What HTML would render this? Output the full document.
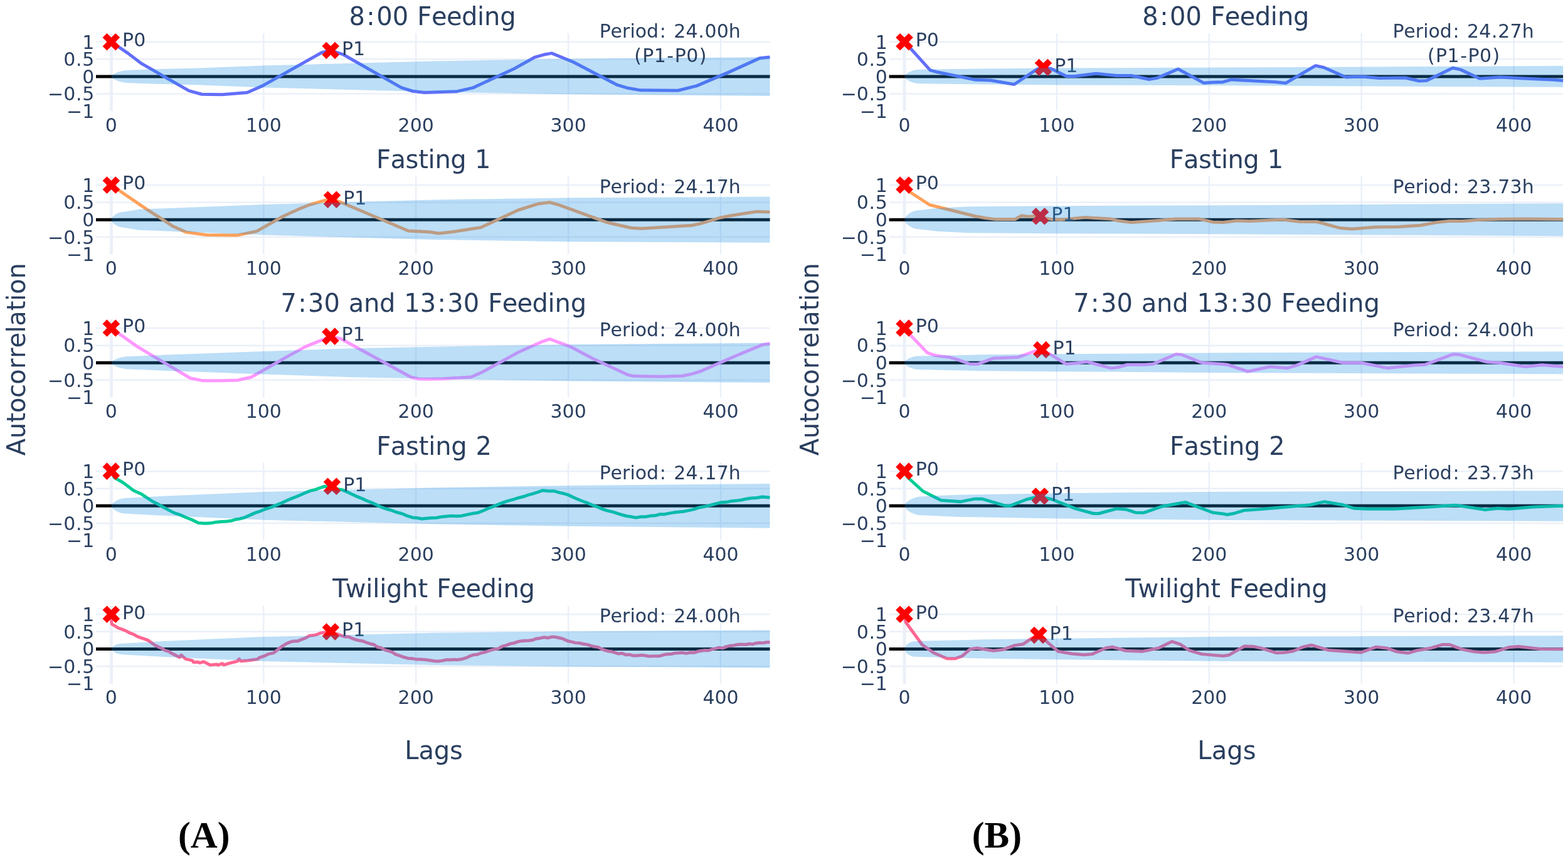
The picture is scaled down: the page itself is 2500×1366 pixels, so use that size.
<!DOCTYPE html><html><head><meta charset="utf-8"><title>Autocorrelation</title><style>html,body{margin:0;padding:0;background:#fff;width:2500px;height:1366px;overflow:hidden}svg{display:block}</style></head><body>
<svg width="2500" height="1366" viewBox="0 0 2500 1366">
<rect width="2500" height="1366" fill="#fff"/>
<g font-family="'DejaVu Sans', 'Liberation Sans', sans-serif" fill="#2a3f5f">
<line x1="177.4" y1="52.96" x2="177.4" y2="177.16" stroke="#EBF0F8" stroke-width="5"/><line x1="420.3" y1="52.96" x2="420.3" y2="177.16" stroke="#EBF0F8" stroke-width="2.5"/><line x1="663.2" y1="52.96" x2="663.2" y2="177.16" stroke="#EBF0F8" stroke-width="2.5"/><line x1="906.1" y1="52.96" x2="906.1" y2="177.16" stroke="#EBF0F8" stroke-width="2.5"/><line x1="1149" y1="52.96" x2="1149" y2="177.16" stroke="#EBF0F8" stroke-width="2.5"/><line x1="153" y1="66.76" x2="1227.5" y2="66.76" stroke="#EBF0F8" stroke-width="2.5"/><line x1="153" y1="94.36" x2="1227.5" y2="94.36" stroke="#EBF0F8" stroke-width="2.5"/><line x1="153" y1="149.56" x2="1227.5" y2="149.56" stroke="#EBF0F8" stroke-width="2.5"/>
<line x1="153" y1="121.96" x2="1227.5" y2="121.96" stroke="#000" stroke-width="5"/>
<polyline points="177.4,66.76 204,84.86 224.5,100.56 301.2,144.66 321.7,150.26 354.1,150.66 394.1,147.46 418.9,136.66 512.9,83.76 526.9,80.46 547.4,86.96 640.3,139.86 657.6,145.26 677,147.46 729,145.66 754.3,139.86 821.4,108.66 852.2,91.46 867.6,87.06 879.7,84.86 913.8,98.76 984.2,135.46 1001.8,140.56 1021.6,143.86 1081,144.26 1110.7,136.86 1162.5,114.86 1210.9,92.86 1227.5,91.06" fill="none" stroke="#636EFA" stroke-width="5" stroke-linejoin="round"/>
<path d="M177.4,73.66 L184.3,80.56 L191.2,73.66 L184.3,66.76 L191.2,59.86 L184.3,52.96 L177.4,59.86 L170.5,52.96 L163.6,59.86 L170.5,66.76 L163.6,73.66 L170.5,80.56Z" fill="#f00"/>
<path d="M527.2,87.36 L534.1,94.26 L541,87.36 L534.1,80.46 L541,73.56 L534.1,66.66 L527.2,73.56 L520.3,66.66 L513.4,73.56 L520.3,80.46 L513.4,87.36 L520.3,94.26Z" fill="#f00"/>
<text x="195.1 213.19" y="74.06" font-size="30">P0</text>
<text x="544.9 562.99" y="87.76" font-size="30">P1</text>
<polygon points="177.4,121.96 178.29,120.31 179.77,119 181.84,117.66 184.8,116.17 189.24,114.47 195.16,112.89 201.08,111.97 207,111.66 238.6,110.46 317.6,108.46 420,104.46 556,100.96 690,97.46 905,93.66 1227.5,90.96 1227.5,152.96 905,150.26 690,146.46 556,142.96 420,139.46 317.6,135.46 238.6,133.46 207,132.26 201.08,131.95 195.16,131.03 189.24,129.45 184.8,127.75 181.84,126.26 179.77,124.92 178.29,123.61 177.4,121.96" fill="rgb(32,146,230)" fill-opacity="0.3"/>
<text x="131.22" y="77.56" font-size="30">1</text>
<text x="101.22 120.99 131.22" y="105.16" font-size="30">0.5</text>
<text x="131.22" y="132.76" font-size="30">0</text>
<text x="76.08 101.22 120.99 131.22" y="160.36" font-size="30">−0.5</text>
<text x="106.08 131.22" y="187.96" font-size="30">−1</text>
<text x="167.86" y="209.56" font-size="30">0</text>
<text x="391.68 410.76 429.84" y="209.56" font-size="30">100</text>
<text x="634.58 653.66 672.74" y="209.56" font-size="30">200</text>
<text x="877.48 896.56 915.64" y="209.56" font-size="30">300</text>
<text x="1120.38 1139.46 1158.54" y="209.56" font-size="30">400</text>
<line x1="177.4" y1="281.21" x2="177.4" y2="405.41" stroke="#EBF0F8" stroke-width="5"/><line x1="420.3" y1="281.21" x2="420.3" y2="405.41" stroke="#EBF0F8" stroke-width="2.5"/><line x1="663.2" y1="281.21" x2="663.2" y2="405.41" stroke="#EBF0F8" stroke-width="2.5"/><line x1="906.1" y1="281.21" x2="906.1" y2="405.41" stroke="#EBF0F8" stroke-width="2.5"/><line x1="1149" y1="281.21" x2="1149" y2="405.41" stroke="#EBF0F8" stroke-width="2.5"/><line x1="153" y1="295.01" x2="1227.5" y2="295.01" stroke="#EBF0F8" stroke-width="2.5"/><line x1="153" y1="322.61" x2="1227.5" y2="322.61" stroke="#EBF0F8" stroke-width="2.5"/><line x1="153" y1="377.81" x2="1227.5" y2="377.81" stroke="#EBF0F8" stroke-width="2.5"/>
<line x1="153" y1="350.21" x2="1227.5" y2="350.21" stroke="#000" stroke-width="5"/>
<polyline points="177.4,295.01 232.1,332.31 275.3,360.41 296.9,370.11 329.3,374.51 378.9,374.91 409.2,368.61 452.4,344.21 476.1,333.41 493.4,326.51 529,316.21 651.1,368.01 685,369.81 699.3,372.01 720.2,369.81 766.4,362.71 825.8,335.01 858.8,324.71 876.4,322.51 891.8,326.91 968.8,354.81 1006.2,363.21 1023.8,364.31 1059,362.11 1103,359.21 1116.2,356.61 1147,347.31 1164.6,343.81 1206.5,337.21 1227.5,338.11" fill="none" stroke="#FFA15A" stroke-width="5" stroke-linejoin="round"/>
<path d="M177.4,301.91 L184.3,308.81 L191.2,301.91 L184.3,295.01 L191.2,288.11 L184.3,281.21 L177.4,288.11 L170.5,281.21 L163.6,288.11 L170.5,295.01 L163.6,301.91 L170.5,308.81Z" fill="#f00"/>
<path d="M529.5,325.11 L536.4,332.01 L543.3,325.11 L536.4,318.21 L543.3,311.31 L536.4,304.41 L529.5,311.31 L522.6,304.41 L515.7,311.31 L522.6,318.21 L515.7,325.11 L522.6,332.01Z" fill="#f00"/>
<text x="195.1 213.19" y="302.31" font-size="30">P0</text>
<text x="547.2 565.29" y="325.51" font-size="30">P1</text>
<polygon points="177.4,350.21 177.99,348.21 178.97,346.61 180.34,344.99 182.3,343.19 185.24,341.12 189.16,339.2 193.08,338.08 197,337.71 221.3,333.71 420,325.91 690,318.51 905,315.21 1227.5,313.61 1227.5,386.81 905,385.21 690,381.91 420,374.51 221.3,366.71 197,362.71 193.08,362.34 189.16,361.22 185.24,359.3 182.3,357.23 180.34,355.43 178.97,353.81 177.99,352.21 177.4,350.21" fill="rgb(32,146,230)" fill-opacity="0.3"/>
<text x="131.22" y="305.81" font-size="30">1</text>
<text x="101.22 120.99 131.22" y="333.41" font-size="30">0.5</text>
<text x="131.22" y="361.01" font-size="30">0</text>
<text x="76.08 101.22 120.99 131.22" y="388.61" font-size="30">−0.5</text>
<text x="106.08 131.22" y="416.21" font-size="30">−1</text>
<text x="167.86" y="437.81" font-size="30">0</text>
<text x="391.68 410.76 429.84" y="437.81" font-size="30">100</text>
<text x="634.58 653.66 672.74" y="437.81" font-size="30">200</text>
<text x="877.48 896.56 915.64" y="437.81" font-size="30">300</text>
<text x="1120.38 1139.46 1158.54" y="437.81" font-size="30">400</text>
<line x1="177.4" y1="509.26" x2="177.4" y2="633.46" stroke="#EBF0F8" stroke-width="5"/><line x1="420.3" y1="509.26" x2="420.3" y2="633.46" stroke="#EBF0F8" stroke-width="2.5"/><line x1="663.2" y1="509.26" x2="663.2" y2="633.46" stroke="#EBF0F8" stroke-width="2.5"/><line x1="906.1" y1="509.26" x2="906.1" y2="633.46" stroke="#EBF0F8" stroke-width="2.5"/><line x1="1149" y1="509.26" x2="1149" y2="633.46" stroke="#EBF0F8" stroke-width="2.5"/><line x1="153" y1="523.06" x2="1227.5" y2="523.06" stroke="#EBF0F8" stroke-width="2.5"/><line x1="153" y1="550.66" x2="1227.5" y2="550.66" stroke="#EBF0F8" stroke-width="2.5"/><line x1="153" y1="605.86" x2="1227.5" y2="605.86" stroke="#EBF0F8" stroke-width="2.5"/>
<line x1="153" y1="578.26" x2="1227.5" y2="578.26" stroke="#000" stroke-width="5"/>
<polyline points="177.4,523.06 219.1,552.66 303.3,602.76 322.8,606.66 355.2,606.66 378.9,606.06 400.5,601.26 458.9,567.86 486.9,552.66 526.9,536.46 543.1,539.76 655.4,601.26 668.4,604.06 685,604.26 704.8,603.86 751,600.96 768.6,593.26 828,560.66 861,545.96 876.4,540.46 909.4,552.56 944.6,571.26 1001.8,597.66 1010.6,599.46 1054.6,600.36 1087.6,599.26 1103,596.16 1116.2,592.16 1169,569.06 1215.3,549.66 1227.5,547.46" fill="none" stroke="#FF97FF" stroke-width="5" stroke-linejoin="round"/>
<path d="M177.4,529.96 L184.3,536.86 L191.2,529.96 L184.3,523.06 L191.2,516.16 L184.3,509.26 L177.4,516.16 L170.5,509.26 L163.6,516.16 L170.5,523.06 L163.6,529.96 L170.5,536.86Z" fill="#f00"/>
<path d="M526.9,543.06 L533.8,549.96 L540.7,543.06 L533.8,536.16 L540.7,529.26 L533.8,522.36 L526.9,529.26 L520,522.36 L513.1,529.26 L520,536.16 L513.1,543.06 L520,549.96Z" fill="#f00"/>
<text x="195.1 213.19" y="530.36" font-size="30">P0</text>
<text x="544.6 562.69" y="543.46" font-size="30">P1</text>
<polygon points="177.4,578.26 178.29,576.61 179.77,575.3 181.84,573.96 184.8,572.47 189.24,570.77 195.16,569.19 201.08,568.27 207,567.96 260,565.76 420,560.06 560,555.26 690,552.76 905,549.36 1227.5,546.46 1227.5,610.06 905,607.16 690,603.76 560,601.26 420,596.46 260,590.76 207,588.56 201.08,588.25 195.16,587.33 189.24,585.75 184.8,584.05 181.84,582.56 179.77,581.22 178.29,579.91 177.4,578.26" fill="rgb(32,146,230)" fill-opacity="0.3"/>
<text x="131.22" y="533.86" font-size="30">1</text>
<text x="101.22 120.99 131.22" y="561.46" font-size="30">0.5</text>
<text x="131.22" y="589.06" font-size="30">0</text>
<text x="76.08 101.22 120.99 131.22" y="616.66" font-size="30">−0.5</text>
<text x="106.08 131.22" y="644.26" font-size="30">−1</text>
<text x="167.86" y="665.86" font-size="30">0</text>
<text x="391.68 410.76 429.84" y="665.86" font-size="30">100</text>
<text x="634.58 653.66 672.74" y="665.86" font-size="30">200</text>
<text x="877.48 896.56 915.64" y="665.86" font-size="30">300</text>
<text x="1120.38 1139.46 1158.54" y="665.86" font-size="30">400</text>
<line x1="177.4" y1="737.37" x2="177.4" y2="861.57" stroke="#EBF0F8" stroke-width="5"/><line x1="420.3" y1="737.37" x2="420.3" y2="861.57" stroke="#EBF0F8" stroke-width="2.5"/><line x1="663.2" y1="737.37" x2="663.2" y2="861.57" stroke="#EBF0F8" stroke-width="2.5"/><line x1="906.1" y1="737.37" x2="906.1" y2="861.57" stroke="#EBF0F8" stroke-width="2.5"/><line x1="1149" y1="737.37" x2="1149" y2="861.57" stroke="#EBF0F8" stroke-width="2.5"/><line x1="153" y1="751.17" x2="1227.5" y2="751.17" stroke="#EBF0F8" stroke-width="2.5"/><line x1="153" y1="778.77" x2="1227.5" y2="778.77" stroke="#EBF0F8" stroke-width="2.5"/><line x1="153" y1="833.97" x2="1227.5" y2="833.97" stroke="#EBF0F8" stroke-width="2.5"/>
<line x1="153" y1="806.37" x2="1227.5" y2="806.37" stroke="#000" stroke-width="5"/>
<polyline points="177.4,751.17 182.4,761.27 195.4,768.77 204,774.96 212.6,781.77 225.6,787.57 234.25,793.32 242.9,798.97 251.53,803.41 260.15,808.29 268.77,812.92 277.4,817.37 287.15,820.65 296.9,824.97 306.6,828.69 316.3,833.57 327.1,834.27 335.75,833.85 344.4,832.33 353.05,831.48 361.7,830.97 368.7,830.06 375.7,827.93 382.7,826.87 389.7,824.97 398.35,821.14 407,817.37 414.93,814.8 422.87,811.48 430.8,809.17 439.43,805.6 448.07,802.14 456.7,797.97 464.27,794.85 471.85,791.96 479.43,788.73 487,785.37 494.55,782.32 502.1,780.63 509.65,777.9 517.2,775.27 524.23,776.38 531.25,777.41 538.27,779.76 545.3,780.67 553.22,784.05 561.13,787.77 569.05,791.37 576.97,794.59 584.88,798.26 592.8,801.17 600.35,804.64 607.9,808.37 616,811.26 624.1,813.35 632.2,816.47 640.3,818.47 648.95,822.17 657.6,824.97 665.15,825.54 672.7,827.07 685,825.67 696,825.17 704.07,823.77 712.13,822.9 720.2,822.27 727.9,822.83 735.6,822.27 744.4,820.34 753.2,818.57 762,817.27 770.36,814.04 778.72,810.27 787.08,807.14 795.44,803.61 803.8,800.37 811.5,797.85 819.2,795.8 826.9,793.46 834.6,791.51 842.3,788.9 850,786.86 857.7,784.44 865.4,781.67 874.75,782.81 884.1,782.77 891.8,785.18 899.5,786.77 907.2,789.37 914.74,792.93 922.29,796.18 929.83,799.24 937.37,801.97 944.91,805.27 952.46,807.79 960,811.27 968.8,814.12 977.6,816.17 987.5,819.31 997.4,822.27 1005.65,823.46 1013.9,825.17 1021.6,823.68 1029.3,823.66 1037,822.27 1044.54,821.86 1052.09,819.78 1059.63,819.63 1067.17,818.16 1074.71,816.85 1082.26,816.02 1089.8,815.27 1098.05,813.67 1106.3,811.87 1114.55,808.95 1122.8,807.57 1132.7,805.21 1142.6,802.57 1150.46,800.8 1158.31,800.37 1166.17,798.68 1174.03,798.11 1181.89,797 1189.74,795.21 1197.6,793.97 1206.45,793.57 1215.3,791.97 1227.5,793.07" fill="none" stroke="#00CC96" stroke-width="5" stroke-linejoin="round"/>
<path d="M177.4,758.07 L184.3,764.97 L191.2,758.07 L184.3,751.17 L191.2,744.27 L184.3,737.37 L177.4,744.27 L170.5,737.37 L163.6,744.27 L170.5,751.17 L163.6,758.07 L170.5,764.97Z" fill="#f00"/>
<path d="M529.5,782.17 L536.4,789.07 L543.3,782.17 L536.4,775.27 L543.3,768.37 L536.4,761.47 L529.5,768.37 L522.6,761.47 L515.7,768.37 L522.6,775.27 L515.7,782.17 L522.6,789.07Z" fill="#f00"/>
<text x="195.1 213.19" y="758.47" font-size="30">P0</text>
<text x="547.2 565.29" y="782.57" font-size="30">P1</text>
<polygon points="177.4,806.37 178.14,804.37 179.37,802.77 181.09,801.15 183.55,799.35 187.24,797.28 192.16,795.36 197.08,794.24 202,793.87 260,790.87 420,783.97 690,777.57 905,773.97 1227.5,770.97 1227.5,841.77 905,838.77 690,835.17 420,828.77 260,821.87 202,818.87 197.08,818.5 192.16,817.38 187.24,815.46 183.55,813.39 181.09,811.59 179.37,809.97 178.14,808.37 177.4,806.37" fill="rgb(32,146,230)" fill-opacity="0.3"/>
<text x="131.22" y="761.97" font-size="30">1</text>
<text x="101.22 120.99 131.22" y="789.57" font-size="30">0.5</text>
<text x="131.22" y="817.17" font-size="30">0</text>
<text x="76.08 101.22 120.99 131.22" y="844.77" font-size="30">−0.5</text>
<text x="106.08 131.22" y="872.37" font-size="30">−1</text>
<text x="167.86" y="893.97" font-size="30">0</text>
<text x="391.68 410.76 429.84" y="893.97" font-size="30">100</text>
<text x="634.58 653.66 672.74" y="893.97" font-size="30">200</text>
<text x="877.48 896.56 915.64" y="893.97" font-size="30">300</text>
<text x="1120.38 1139.46 1158.54" y="893.97" font-size="30">400</text>
<line x1="177.4" y1="965.43" x2="177.4" y2="1089.63" stroke="#EBF0F8" stroke-width="5"/><line x1="420.3" y1="965.43" x2="420.3" y2="1089.63" stroke="#EBF0F8" stroke-width="2.5"/><line x1="663.2" y1="965.43" x2="663.2" y2="1089.63" stroke="#EBF0F8" stroke-width="2.5"/><line x1="906.1" y1="965.43" x2="906.1" y2="1089.63" stroke="#EBF0F8" stroke-width="2.5"/><line x1="1149" y1="965.43" x2="1149" y2="1089.63" stroke="#EBF0F8" stroke-width="2.5"/><line x1="153" y1="979.23" x2="1227.5" y2="979.23" stroke="#EBF0F8" stroke-width="2.5"/><line x1="153" y1="1006.83" x2="1227.5" y2="1006.83" stroke="#EBF0F8" stroke-width="2.5"/><line x1="153" y1="1062.03" x2="1227.5" y2="1062.03" stroke="#EBF0F8" stroke-width="2.5"/>
<line x1="153" y1="1034.43" x2="1227.5" y2="1034.43" stroke="#000" stroke-width="5"/>
<polyline points="177.4,979.23 178.1,994.53 188.9,1001.03 194.94,1003.17 200.98,1005.6 207.02,1008.96 213.06,1011.15 219.1,1014.63 229.9,1018.33 235.52,1020.4 241.14,1024.15 246.76,1028.31 252.38,1031.07 258,1033.43 263.5,1036.79 269,1038.37 274.5,1041.84 280,1044.53 286.4,1047.73 289,1044.23 296,1050.33 306.9,1052.83 308.2,1055.43 315.9,1055.13 318.5,1056.73 324.9,1054.73 335.1,1059.93 345.4,1058.93 347.3,1060.23 354.4,1057.63 356.9,1059.93 367.2,1056.73 378.1,1054.13 381.3,1050.33 383.8,1053.83 389.6,1053.33 395.4,1052.83 403.1,1051.73 410.8,1050.63 413.3,1048.33 422.9,1045.13 427.4,1042.63 436.4,1040.63 443.17,1035.21 449.93,1030.04 456.7,1025.83 462.65,1023.34 468.6,1021.95 474.55,1021.9 480.5,1019.33 486.95,1017.05 493.4,1013.33 499.02,1012.84 504.64,1011.67 510.26,1009.18 515.88,1008.27 521.5,1007.53 527.27,1008.88 533.03,1010.17 538.8,1010.73 544.56,1013.23 550.31,1015.01 556.07,1014.99 561.82,1017.85 567.58,1019.72 573.33,1021.08 579.09,1022.08 584.84,1024.45 590.6,1026.23 596.37,1027.49 602.13,1031.52 607.9,1032.73 613.65,1035.92 619.4,1037.6 625.15,1039.44 630.9,1043.16 636.65,1044.81 642.4,1047.03 650,1049.17 657.6,1049.63 664.45,1051.1 671.3,1051.05 678.15,1051.54 685,1052.43 691.6,1053.45 698.2,1054.03 704.8,1053.11 711.4,1051.75 718,1051.73 723.5,1051.3 729,1051.73 736.7,1050.57 744.4,1048.03 749.9,1045.38 755.4,1043.73 760.9,1043.36 766.4,1040.95 771.9,1039.86 777.4,1038.07 782.9,1036.13 788.4,1034.83 794.63,1033.91 800.87,1030.13 807.1,1028.59 813.33,1026.11 819.57,1025.04 825.8,1022.73 831.67,1021.64 837.53,1021.21 843.4,1020.93 849.45,1020.17 855.5,1017.94 861.55,1017.16 867.6,1015.73 873.38,1016.82 879.15,1015.25 884.93,1015.37 890.7,1016.53 897.67,1018.13 904.63,1021.51 911.6,1023.13 917.76,1024.62 923.92,1025.03 930.08,1026.48 936.24,1027.38 942.4,1029.33 947.9,1030.77 953.4,1031.39 958.9,1034.36 964.4,1036.33 969.9,1038 975.4,1038.53 980.9,1040.32 986.4,1042.09 991.9,1041.3 997.4,1043.63 1003.56,1043.39 1009.72,1045.1 1015.88,1044.9 1022.04,1044.31 1028.2,1044.73 1034.07,1046.07 1039.93,1045.73 1045.8,1045.83 1051.77,1045.74 1057.74,1043.8 1063.71,1042.79 1069.69,1042.56 1075.66,1041.1 1081.63,1040.86 1087.6,1040.33 1094.2,1041.35 1100.8,1039.96 1107.4,1040.33 1113,1038.21 1118.6,1037.26 1124.2,1036.49 1129.8,1036.81 1135.4,1034.85 1141,1033.65 1146.6,1032.19 1152.2,1033.1 1157.8,1030.84 1163.4,1029.32 1169,1028.93 1175.6,1027.49 1182.2,1027.02 1188.8,1027.53 1194.33,1026.27 1199.86,1026.86 1205.39,1025.17 1210.91,1024.41 1216.44,1024.87 1221.97,1023.81 1227.5,1023.83" fill="none" stroke="#FF6692" stroke-width="5" stroke-linejoin="round"/>
<path d="M177.4,986.13 L184.3,993.03 L191.2,986.13 L184.3,979.23 L191.2,972.33 L184.3,965.43 L177.4,972.33 L170.5,965.43 L163.6,972.33 L170.5,979.23 L163.6,986.13 L170.5,993.03Z" fill="#f00"/>
<path d="M527.4,1013.83 L534.3,1020.73 L541.2,1013.83 L534.3,1006.93 L541.2,1000.03 L534.3,993.13 L527.4,1000.03 L520.5,993.13 L513.6,1000.03 L520.5,1006.93 L513.6,1013.83 L520.5,1020.73Z" fill="#f00"/>
<text x="195.1 213.19" y="986.53" font-size="30">P0</text>
<text x="545.1 563.19" y="1014.23" font-size="30">P1</text>
<polygon points="177.4,1034.43 177.93,1033.04 178.81,1031.93 180.04,1030.8 181.8,1029.54 184.44,1028.11 187.96,1026.77 191.48,1025.99 195,1025.73 260,1021.93 420,1014.93 690,1008.83 905,1006.43 1227.5,1004.43 1227.5,1064.43 905,1062.43 690,1060.03 420,1053.93 260,1046.93 195,1043.13 191.48,1042.87 187.96,1042.09 184.44,1040.75 181.8,1039.32 180.04,1038.06 178.81,1036.93 177.93,1035.82 177.4,1034.43" fill="rgb(32,146,230)" fill-opacity="0.3"/>
<text x="131.22" y="990.03" font-size="30">1</text>
<text x="101.22 120.99 131.22" y="1017.63" font-size="30">0.5</text>
<text x="131.22" y="1045.23" font-size="30">0</text>
<text x="76.08 101.22 120.99 131.22" y="1072.83" font-size="30">−0.5</text>
<text x="106.08 131.22" y="1100.43" font-size="30">−1</text>
<text x="167.86" y="1122.03" font-size="30">0</text>
<text x="391.68 410.76 429.84" y="1122.03" font-size="30">100</text>
<text x="634.58 653.66 672.74" y="1122.03" font-size="30">200</text>
<text x="877.48 896.56 915.64" y="1122.03" font-size="30">300</text>
<text x="1120.38 1139.46 1158.54" y="1122.03" font-size="30">400</text>
<text x="556.53 584.36 600.23 625.72 651.89 665.33 688 711.9 735.93 761.05 772.12 797.27" y="39.85" font-size="40">8:00 Feeding</text>
<text x="955.64 973.53 992 1004.56 1012.82 1031.01 1051.7 1064.13 1074.25 1093.41 1113.25 1123.55 1142.71 1161.86" y="60" font-size="30">Period: 24.00h</text>
<text x="1011.14 1024.21 1042.79 1063.34 1075.63 1094.2 1114.67" y="98.8" font-size="30">(P1-P0)</text>
<text x="600.05 622.5 646.49 667.13 682.6 693.38 718.16 743.74 756.89" y="267.8" font-size="40">Fasting 1</text>
<text x="955.64 973.53 992 1004.56 1012.82 1031.01 1051.7 1064.13 1074.25 1093.41 1113.25 1123.55 1142.71 1161.86" y="307.81" font-size="30">Period: 24.17h</text>
<text x="447.49 475.25 491.05 516.47 542.58 555.72 579.96 605.04 630.86 644.25 669.67 697.43 713.23 738.65 764.75 778.14 800.74 824.56 848.52 873.59 884.59 909.67" y="497.25" font-size="40">7:30 and 13:30 Feeding</text>
<text x="955.64 973.53 992 1004.56 1012.82 1031.01 1051.7 1064.13 1074.25 1093.41 1113.25 1123.55 1142.71 1161.86" y="535.86" font-size="30">Period: 24.00h</text>
<text x="600.15 622.81 646.99 667.79 683.37 694.31 719.31 745.06 758.38" y="724.9" font-size="40">Fasting 2</text>
<text x="955.64 973.53 992 1004.56 1012.82 1031.01 1051.7 1064.13 1074.25 1093.41 1113.25 1123.55 1142.71 1161.86" y="763.97" font-size="30">Period: 24.17h</text>
<text x="530.37 550.78 583.37 594.31 605.25 616.01 641.09 666.43 682.8 696.15 718.72 742.51 766.44 791.48 802.46 827.51" y="952" font-size="40">Twilight Feeding</text>
<text x="955.64 973.53 992 1004.56 1012.82 1031.01 1051.7 1064.13 1074.25 1093.41 1113.25 1123.55 1142.71 1161.86" y="992.03" font-size="30">Period: 24.00h</text>
<text x="645.37 667.56 691.76 717.07" y="1209.6" font-size="40">Lags</text>
<g transform="translate(39.9,572.65) rotate(-90)"><text x="-153.58 -126.24 -100.86 -85.24 -61.44 -40.12 -15.42 1.66 18.04 42.18 52.98 77.3 92.94 103.88 128.24" y="0" font-size="40">Autocorrelation</text></g>
</g>
<g font-family="'DejaVu Sans', 'Liberation Sans', sans-serif" fill="#2a3f5f">
<line x1="1442" y1="52.96" x2="1442" y2="177.16" stroke="#EBF0F8" stroke-width="5"/><line x1="1684.9" y1="52.96" x2="1684.9" y2="177.16" stroke="#EBF0F8" stroke-width="2.5"/><line x1="1927.8" y1="52.96" x2="1927.8" y2="177.16" stroke="#EBF0F8" stroke-width="2.5"/><line x1="2170.7" y1="52.96" x2="2170.7" y2="177.16" stroke="#EBF0F8" stroke-width="2.5"/><line x1="2413.6" y1="52.96" x2="2413.6" y2="177.16" stroke="#EBF0F8" stroke-width="2.5"/><line x1="1417.6" y1="66.76" x2="2492.1" y2="66.76" stroke="#EBF0F8" stroke-width="2.5"/><line x1="1417.6" y1="94.36" x2="2492.1" y2="94.36" stroke="#EBF0F8" stroke-width="2.5"/><line x1="1417.6" y1="149.56" x2="2492.1" y2="149.56" stroke="#EBF0F8" stroke-width="2.5"/>
<line x1="1417.6" y1="121.96" x2="2492.1" y2="121.96" stroke="#000" stroke-width="5"/>
<polyline points="1442,66.76 1451.8,77.26 1483.1,111.86 1495,115.06 1527.4,121.56 1555.5,127.36 1579.2,128.06 1617,134.46 1652.7,110.76 1663.5,107.46 1676.4,109.66 1700.2,121.56 1713.2,121.56 1747.7,117.26 1780.1,120.46 1803.9,120.46 1831.9,126.46 1844.9,124.36 1878.4,110.06 1919.4,132.36 1933.5,131.26 1950.1,130.66 1963.3,126.96 2033.7,130.66 2050.2,132.46 2097.5,104.66 2110.7,107.56 2145.9,122.96 2170.1,121.96 2198.7,124.56 2240.5,124.06 2262.5,128.96 2274.6,128.46 2316.4,108.26 2328.5,110.86 2359.3,125.16 2392.3,122.96 2434.1,125.16 2478.2,127.36 2492.1,128.46" fill="none" stroke="#636EFA" stroke-width="5" stroke-linejoin="round"/>
<path d="M1442,73.66 L1448.9,80.56 L1455.8,73.66 L1448.9,66.76 L1455.8,59.86 L1448.9,52.96 L1442,59.86 L1435.1,52.96 L1428.2,59.86 L1435.1,66.76 L1428.2,73.66 L1435.1,80.56Z" fill="#f00"/>
<path d="M1663.5,114.36 L1670.4,121.26 L1677.3,114.36 L1670.4,107.46 L1677.3,100.56 L1670.4,93.66 L1663.5,100.56 L1656.6,93.66 L1649.7,100.56 L1656.6,107.46 L1649.7,114.36 L1656.6,121.26Z" fill="#f00"/>
<text x="1459.7 1477.79" y="74.06" font-size="30">P0</text>
<text x="1681.2 1699.29" y="114.76" font-size="30">P1</text>
<polygon points="1442,121.96 1442.74,120.15 1443.97,118.71 1445.69,117.24 1448.15,115.61 1451.84,113.74 1456.76,112.01 1461.68,111 1466.6,110.66 1564.6,109.46 1685.1,108.46 1955.1,107.56 2492.1,105.06 2492.1,138.86 1955.1,136.36 1685.1,135.46 1564.6,134.46 1466.6,133.26 1461.68,132.92 1456.76,131.91 1451.84,130.18 1448.15,128.31 1445.69,126.68 1443.97,125.21 1442.74,123.77 1442,121.96" fill="rgb(32,146,230)" fill-opacity="0.3"/>
<text x="1395.82" y="77.56" font-size="30">1</text>
<text x="1365.82 1385.59 1395.82" y="105.16" font-size="30">0.5</text>
<text x="1395.82" y="132.76" font-size="30">0</text>
<text x="1340.68 1365.82 1385.59 1395.82" y="160.36" font-size="30">−0.5</text>
<text x="1370.68 1395.82" y="187.96" font-size="30">−1</text>
<text x="1432.46" y="209.56" font-size="30">0</text>
<text x="1656.28 1675.36 1694.44" y="209.56" font-size="30">100</text>
<text x="1899.18 1918.26 1937.34" y="209.56" font-size="30">200</text>
<text x="2142.08 2161.16 2180.24" y="209.56" font-size="30">300</text>
<text x="2384.98 2404.06 2423.14" y="209.56" font-size="30">400</text>
<line x1="1442" y1="281.21" x2="1442" y2="405.41" stroke="#EBF0F8" stroke-width="5"/><line x1="1684.9" y1="281.21" x2="1684.9" y2="405.41" stroke="#EBF0F8" stroke-width="2.5"/><line x1="1927.8" y1="281.21" x2="1927.8" y2="405.41" stroke="#EBF0F8" stroke-width="2.5"/><line x1="2170.7" y1="281.21" x2="2170.7" y2="405.41" stroke="#EBF0F8" stroke-width="2.5"/><line x1="2413.6" y1="281.21" x2="2413.6" y2="405.41" stroke="#EBF0F8" stroke-width="2.5"/><line x1="1417.6" y1="295.01" x2="2492.1" y2="295.01" stroke="#EBF0F8" stroke-width="2.5"/><line x1="1417.6" y1="322.61" x2="2492.1" y2="322.61" stroke="#EBF0F8" stroke-width="2.5"/><line x1="1417.6" y1="377.81" x2="2492.1" y2="377.81" stroke="#EBF0F8" stroke-width="2.5"/>
<line x1="1417.6" y1="350.21" x2="2492.1" y2="350.21" stroke="#000" stroke-width="5"/>
<polyline points="1442,295.01 1449.7,305.36 1482.1,326.51 1497.2,330.21 1555.5,344.71 1570.6,347.51 1587.9,349.61 1618.1,349.61 1628.9,343.81 1639.7,345.31 1650.5,344.21 1659.2,346.01 1676.4,349.61 1691.6,350.31 1730.4,346.41 1745.6,347.51 1771.5,349.01 1782.3,351.81 1803.9,354.61 1842.7,351.81 1875.1,349.01 1911.9,349.01 1933.5,353.91 1950.1,354.41 1972.1,351.71 1991.9,352.61 2044.7,350.01 2071.1,353.31 2099.7,353.51 2137.1,363.61 2155.8,364.91 2192.1,362.11 2229.5,361.41 2264.7,359.21 2288.9,354.81 2310.9,352.21 2330.7,352.61 2357.1,350.41 2390.1,349.31 2434.1,348.91 2492.1,349.51" fill="none" stroke="#FFA15A" stroke-width="5" stroke-linejoin="round"/>
<path d="M1442,301.91 L1448.9,308.81 L1455.8,301.91 L1448.9,295.01 L1455.8,288.11 L1448.9,281.21 L1442,288.11 L1435.1,281.21 L1428.2,288.11 L1435.1,295.01 L1428.2,301.91 L1435.1,308.81Z" fill="#f00"/>
<path d="M1658.6,351.71 L1665.5,358.61 L1672.4,351.71 L1665.5,344.81 L1672.4,337.91 L1665.5,331.01 L1658.6,337.91 L1651.7,331.01 L1644.8,337.91 L1651.7,344.81 L1644.8,351.71 L1651.7,358.61Z" fill="#f00"/>
<text x="1459.7 1477.79" y="302.31" font-size="30">P0</text>
<text x="1676.3 1694.39" y="352.11" font-size="30">P1</text>
<polygon points="1442,350.21 1442.68,347.81 1443.81,345.9 1445.39,343.94 1447.65,341.78 1451.04,339.31 1455.56,337 1460.08,335.65 1464.6,335.21 1494.6,331.71 1544.6,329.21 1685.1,328.21 1955.1,327.21 2492.1,324.21 2492.1,376.21 1955.1,373.21 1685.1,372.21 1544.6,371.21 1494.6,368.71 1464.6,365.21 1460.08,364.77 1455.56,363.42 1451.04,361.11 1447.65,358.64 1445.39,356.48 1443.81,354.52 1442.68,352.61 1442,350.21" fill="rgb(32,146,230)" fill-opacity="0.3"/>
<text x="1395.82" y="305.81" font-size="30">1</text>
<text x="1365.82 1385.59 1395.82" y="333.41" font-size="30">0.5</text>
<text x="1395.82" y="361.01" font-size="30">0</text>
<text x="1340.68 1365.82 1385.59 1395.82" y="388.61" font-size="30">−0.5</text>
<text x="1370.68 1395.82" y="416.21" font-size="30">−1</text>
<text x="1432.46" y="437.81" font-size="30">0</text>
<text x="1656.28 1675.36 1694.44" y="437.81" font-size="30">100</text>
<text x="1899.18 1918.26 1937.34" y="437.81" font-size="30">200</text>
<text x="2142.08 2161.16 2180.24" y="437.81" font-size="30">300</text>
<text x="2384.98 2404.06 2423.14" y="437.81" font-size="30">400</text>
<line x1="1442" y1="509.26" x2="1442" y2="633.46" stroke="#EBF0F8" stroke-width="5"/><line x1="1684.9" y1="509.26" x2="1684.9" y2="633.46" stroke="#EBF0F8" stroke-width="2.5"/><line x1="1927.8" y1="509.26" x2="1927.8" y2="633.46" stroke="#EBF0F8" stroke-width="2.5"/><line x1="2170.7" y1="509.26" x2="2170.7" y2="633.46" stroke="#EBF0F8" stroke-width="2.5"/><line x1="2413.6" y1="509.26" x2="2413.6" y2="633.46" stroke="#EBF0F8" stroke-width="2.5"/><line x1="1417.6" y1="523.06" x2="2492.1" y2="523.06" stroke="#EBF0F8" stroke-width="2.5"/><line x1="1417.6" y1="550.66" x2="2492.1" y2="550.66" stroke="#EBF0F8" stroke-width="2.5"/><line x1="1417.6" y1="605.86" x2="2492.1" y2="605.86" stroke="#EBF0F8" stroke-width="2.5"/>
<line x1="1417.6" y1="578.26" x2="2492.1" y2="578.26" stroke="#000" stroke-width="5"/>
<polyline points="1442,523.06 1450.7,533.26 1478.8,562.46 1491.8,566.76 1514.5,569.56 1525.3,572.56 1546.8,580.36 1558.7,580.36 1583.6,571.06 1622.4,569.56 1652.7,558.76 1660.2,557.46 1674.3,564.56 1700.2,580.36 1717.5,578.66 1732.6,576.46 1771.5,586.86 1782.3,585.56 1797.4,581.26 1825.5,581.26 1838.4,580.36 1875.1,564.56 1883.8,565.26 1916.2,578.16 1950.1,580.51 1956.7,581.16 1989.7,592.16 2024.9,584.46 2052.4,586.66 2066.7,582.66 2098.6,568.66 2141.5,578.26 2170.1,578.26 2211.9,586.66 2253.7,582.26 2272.4,581.16 2316.4,564.66 2326.3,565.06 2370.3,576.76 2390.1,578.26 2432,584.46 2458.3,581.86 2492.1,584.46" fill="none" stroke="#FF97FF" stroke-width="5" stroke-linejoin="round"/>
<path d="M1442,529.96 L1448.9,536.86 L1455.8,529.96 L1448.9,523.06 L1455.8,516.16 L1448.9,509.26 L1442,516.16 L1435.1,509.26 L1428.2,516.16 L1435.1,523.06 L1428.2,529.96 L1435.1,536.86Z" fill="#f00"/>
<path d="M1660.8,564.46 L1667.7,571.36 L1674.6,564.46 L1667.7,557.56 L1674.6,550.66 L1667.7,543.76 L1660.8,550.66 L1653.9,543.76 L1647,550.66 L1653.9,557.56 L1647,564.46 L1653.9,571.36Z" fill="#f00"/>
<text x="1459.7 1477.79" y="530.36" font-size="30">P0</text>
<text x="1678.5 1696.59" y="564.86" font-size="30">P1</text>
<polygon points="1442,578.26 1442.68,576.53 1443.81,575.15 1445.39,573.75 1447.65,572.19 1451.04,570.41 1455.56,568.75 1460.08,567.78 1464.6,567.46 1566.3,565.26 1685.1,564.36 1955.1,562.36 2492.1,560.26 2492.1,596.26 1955.1,594.16 1685.1,592.16 1566.3,591.26 1464.6,589.06 1460.08,588.74 1455.56,587.77 1451.04,586.11 1447.65,584.33 1445.39,582.77 1443.81,581.37 1442.68,579.99 1442,578.26" fill="rgb(32,146,230)" fill-opacity="0.3"/>
<text x="1395.82" y="533.86" font-size="30">1</text>
<text x="1365.82 1385.59 1395.82" y="561.46" font-size="30">0.5</text>
<text x="1395.82" y="589.06" font-size="30">0</text>
<text x="1340.68 1365.82 1385.59 1395.82" y="616.66" font-size="30">−0.5</text>
<text x="1370.68 1395.82" y="644.26" font-size="30">−1</text>
<text x="1432.46" y="665.86" font-size="30">0</text>
<text x="1656.28 1675.36 1694.44" y="665.86" font-size="30">100</text>
<text x="1899.18 1918.26 1937.34" y="665.86" font-size="30">200</text>
<text x="2142.08 2161.16 2180.24" y="665.86" font-size="30">300</text>
<text x="2384.98 2404.06 2423.14" y="665.86" font-size="30">400</text>
<line x1="1442" y1="737.37" x2="1442" y2="861.57" stroke="#EBF0F8" stroke-width="5"/><line x1="1684.9" y1="737.37" x2="1684.9" y2="861.57" stroke="#EBF0F8" stroke-width="2.5"/><line x1="1927.8" y1="737.37" x2="1927.8" y2="861.57" stroke="#EBF0F8" stroke-width="2.5"/><line x1="2170.7" y1="737.37" x2="2170.7" y2="861.57" stroke="#EBF0F8" stroke-width="2.5"/><line x1="2413.6" y1="737.37" x2="2413.6" y2="861.57" stroke="#EBF0F8" stroke-width="2.5"/><line x1="1417.6" y1="751.17" x2="2492.1" y2="751.17" stroke="#EBF0F8" stroke-width="2.5"/><line x1="1417.6" y1="778.77" x2="2492.1" y2="778.77" stroke="#EBF0F8" stroke-width="2.5"/><line x1="1417.6" y1="833.97" x2="2492.1" y2="833.97" stroke="#EBF0F8" stroke-width="2.5"/>
<line x1="1417.6" y1="806.37" x2="2492.1" y2="806.37" stroke="#000" stroke-width="5"/>
<polyline points="1442,751.17 1447.5,761.22 1471.3,782.77 1500.4,797.47 1531.7,799.67 1553.3,795.37 1566.3,795.37 1603,806.17 1610.5,806.17 1637.5,795.77 1657,791.47 1676.4,795.77 1715.3,810.87 1743.4,818.47 1752,818.47 1780.1,810.87 1795.2,811.97 1810.3,816.97 1823.3,817.37 1853.6,806.97 1890.3,800.57 1933.5,816.97 1950.1,819.07 1956.7,820.17 1966.6,818.57 1983.1,813.57 2013.9,811.37 2088.7,804.77 2111.8,799.67 2141.5,804.77 2159.1,810.27 2181.1,811.37 2222.9,811.37 2321.9,805.37 2368.1,812.47 2387.9,810.27 2405.5,811.37 2445.1,808.07 2492.1,806.27" fill="none" stroke="#00CC96" stroke-width="5" stroke-linejoin="round"/>
<path d="M1442,758.07 L1448.9,764.97 L1455.8,758.07 L1448.9,751.17 L1455.8,744.27 L1448.9,737.37 L1442,744.27 L1435.1,737.37 L1428.2,744.27 L1435.1,751.17 L1428.2,758.07 L1435.1,764.97Z" fill="#f00"/>
<path d="M1658.3,797.87 L1665.2,804.77 L1672.1,797.87 L1665.2,790.97 L1672.1,784.07 L1665.2,777.17 L1658.3,784.07 L1651.4,777.17 L1644.5,784.07 L1651.4,790.97 L1644.5,797.87 L1651.4,804.77Z" fill="#f00"/>
<text x="1459.7 1477.79" y="758.47" font-size="30">P0</text>
<text x="1676 1694.09" y="798.27" font-size="30">P1</text>
<polygon points="1442,806.37 1442.83,803.97 1444.21,802.06 1446.14,800.1 1448.9,797.94 1453.04,795.47 1458.56,793.16 1464.08,791.81 1469.6,791.37 1524.6,788.87 1685.1,786.17 1955.1,783.77 2492.1,781.97 2492.1,830.77 1955.1,828.97 1685.1,826.57 1524.6,823.87 1469.6,821.37 1464.08,820.93 1458.56,819.58 1453.04,817.27 1448.9,814.8 1446.14,812.64 1444.21,810.68 1442.83,808.77 1442,806.37" fill="rgb(32,146,230)" fill-opacity="0.3"/>
<text x="1395.82" y="761.97" font-size="30">1</text>
<text x="1365.82 1385.59 1395.82" y="789.57" font-size="30">0.5</text>
<text x="1395.82" y="817.17" font-size="30">0</text>
<text x="1340.68 1365.82 1385.59 1395.82" y="844.77" font-size="30">−0.5</text>
<text x="1370.68 1395.82" y="872.37" font-size="30">−1</text>
<text x="1432.46" y="893.97" font-size="30">0</text>
<text x="1656.28 1675.36 1694.44" y="893.97" font-size="30">100</text>
<text x="1899.18 1918.26 1937.34" y="893.97" font-size="30">200</text>
<text x="2142.08 2161.16 2180.24" y="893.97" font-size="30">300</text>
<text x="2384.98 2404.06 2423.14" y="893.97" font-size="30">400</text>
<line x1="1442" y1="965.43" x2="1442" y2="1089.63" stroke="#EBF0F8" stroke-width="5"/><line x1="1684.9" y1="965.43" x2="1684.9" y2="1089.63" stroke="#EBF0F8" stroke-width="2.5"/><line x1="1927.8" y1="965.43" x2="1927.8" y2="1089.63" stroke="#EBF0F8" stroke-width="2.5"/><line x1="2170.7" y1="965.43" x2="2170.7" y2="1089.63" stroke="#EBF0F8" stroke-width="2.5"/><line x1="2413.6" y1="965.43" x2="2413.6" y2="1089.63" stroke="#EBF0F8" stroke-width="2.5"/><line x1="1417.6" y1="979.23" x2="2492.1" y2="979.23" stroke="#EBF0F8" stroke-width="2.5"/><line x1="1417.6" y1="1006.83" x2="2492.1" y2="1006.83" stroke="#EBF0F8" stroke-width="2.5"/><line x1="1417.6" y1="1062.03" x2="2492.1" y2="1062.03" stroke="#EBF0F8" stroke-width="2.5"/>
<line x1="1417.6" y1="1034.43" x2="2492.1" y2="1034.43" stroke="#000" stroke-width="5"/>
<polyline points="1442,979.23 1444.3,991.93 1470.2,1027.53 1488.5,1040.43 1510.1,1049.73 1523.1,1049.73 1533.9,1045.83 1546.9,1034.63 1557.7,1032.93 1583.6,1037.23 1598.7,1035.53 1618.1,1028.63 1631.1,1026.83 1644,1017.83 1654.8,1013.93 1665.6,1019.93 1687.2,1038.33 1708.8,1042.03 1728.3,1043.73 1741.2,1042.63 1762.8,1032.93 1773.6,1031.23 1795.2,1037.23 1821.1,1038.33 1847.1,1032.93 1868.7,1022.53 1881.6,1026.83 1896.7,1036.83 1916.2,1042.63 1933.5,1044.13 1950.1,1045.43 1958.9,1044.33 1984.2,1030.03 1998.5,1030.43 2011.7,1033.33 2034.8,1040.63 2049.1,1039.93 2062.3,1037.73 2077.7,1031.13 2090.9,1028.23 2117.3,1036.23 2170.1,1039.93 2194.3,1031.13 2211.9,1033.33 2227.3,1038.83 2244.9,1041.03 2258.1,1037.03 2280.1,1033.33 2299.9,1027.43 2310.9,1027.43 2330.7,1034.83 2350.5,1038.83 2365.9,1039.93 2383.5,1038.83 2405.5,1031.83 2421,1030.43 2456.1,1034.43 2492.1,1034.83" fill="none" stroke="#FF6692" stroke-width="5" stroke-linejoin="round"/>
<path d="M1442,986.13 L1448.9,993.03 L1455.8,986.13 L1448.9,979.23 L1455.8,972.33 L1448.9,965.43 L1442,972.33 L1435.1,965.43 L1428.2,972.33 L1435.1,979.23 L1428.2,986.13 L1435.1,993.03Z" fill="#f00"/>
<path d="M1655.9,1019.33 L1662.8,1026.23 L1669.7,1019.33 L1662.8,1012.43 L1669.7,1005.53 L1662.8,998.63 L1655.9,1005.53 L1649,998.63 L1642.1,1005.53 L1649,1012.43 L1642.1,1019.33 L1649,1026.23Z" fill="#f00"/>
<text x="1459.7 1477.79" y="986.53" font-size="30">P0</text>
<text x="1673.6 1691.69" y="1019.73" font-size="30">P1</text>
<polygon points="1442,1034.43 1442.5,1032.45 1443.33,1030.86 1444.49,1029.25 1446.15,1027.46 1448.64,1025.42 1451.96,1023.51 1455.28,1022.4 1458.6,1022.03 1566.3,1019.33 1685.1,1017.68 1955.1,1014.83 2492.1,1013.18 2492.1,1055.68 1955.1,1054.03 1685.1,1051.18 1566.3,1049.53 1458.6,1046.83 1455.28,1046.46 1451.96,1045.35 1448.64,1043.44 1446.15,1041.4 1444.49,1039.61 1443.33,1038 1442.5,1036.41 1442,1034.43" fill="rgb(32,146,230)" fill-opacity="0.3"/>
<text x="1395.82" y="990.03" font-size="30">1</text>
<text x="1365.82 1385.59 1395.82" y="1017.63" font-size="30">0.5</text>
<text x="1395.82" y="1045.23" font-size="30">0</text>
<text x="1340.68 1365.82 1385.59 1395.82" y="1072.83" font-size="30">−0.5</text>
<text x="1370.68 1395.82" y="1100.43" font-size="30">−1</text>
<text x="1432.46" y="1122.03" font-size="30">0</text>
<text x="1656.28 1675.36 1694.44" y="1122.03" font-size="30">100</text>
<text x="1899.18 1918.26 1937.34" y="1122.03" font-size="30">200</text>
<text x="2142.08 2161.16 2180.24" y="1122.03" font-size="30">300</text>
<text x="2384.98 2404.06 2423.14" y="1122.03" font-size="30">400</text>
<text x="1821.33 1849.16 1865.03 1890.52 1916.69 1930.13 1952.8 1976.7 2000.73 2025.85 2036.92 2062.07" y="39.85" font-size="40">8:00 Feeding</text>
<text x="2220.44 2238.33 2256.8 2269.36 2277.62 2295.81 2316.5 2328.93 2339.05 2358.21 2378.05 2388.35 2407.51 2426.66" y="60" font-size="30">Period: 24.27h</text>
<text x="2275.94 2289.01 2307.59 2328.14 2340.43 2359 2379.47" y="98.8" font-size="30">(P1-P0)</text>
<text x="1864.79 1887.11 1910.98 1931.52 1946.92 1957.6 1982.24 2007.72 2020.75" y="267.8" font-size="40">Fasting 1</text>
<text x="2220.44 2238.33 2256.8 2269.36 2277.62 2295.81 2316.5 2328.93 2339.05 2358.21 2378.05 2388.35 2407.51 2426.66" y="307.81" font-size="30">Period: 23.73h</text>
<text x="1711.32 1739.12 1754.97 1780.44 1806.58 1819.77 1844.06 1869.19 1895.05 1908.48 1933.95 1961.76 1977.6 2003.07 2029.22 2042.64 2065.29 2089.16 2113.17 2138.27 2149.31 2174.44" y="497.25" font-size="40">7:30 and 13:30 Feeding</text>
<text x="2220.44 2238.33 2256.8 2269.36 2277.62 2295.81 2316.5 2328.93 2339.05 2358.21 2378.05 2388.35 2407.51 2426.66" y="535.86" font-size="30">Period: 24.00h</text>
<text x="1864.95 1887.61 1911.79 1932.59 1948.17 1959.11 1984.11 2009.86 2023.18" y="724.9" font-size="40">Fasting 2</text>
<text x="2220.44 2238.33 2256.8 2269.36 2277.62 2295.81 2316.5 2328.93 2339.05 2358.21 2378.05 2388.35 2407.51 2426.66" y="763.97" font-size="30">Period: 23.73h</text>
<text x="1794.17 1814.58 1847.17 1858.11 1869.05 1879.81 1904.89 1930.23 1946.6 1959.95 1982.52 2006.31 2030.24 2055.28 2066.26 2091.31" y="952" font-size="40">Twilight Feeding</text>
<text x="2220.44 2238.33 2256.8 2269.36 2277.62 2295.81 2316.5 2328.93 2339.05 2358.21 2378.05 2388.35 2407.51 2426.66" y="992.03" font-size="30">Period: 23.47h</text>
<text x="1909.29 1931.74 1956.2 1981.76" y="1209.6" font-size="40">Lags</text>
<g transform="translate(1304.5,572.65) rotate(-90)"><text x="-153.58 -126.24 -100.86 -85.24 -61.44 -40.12 -15.42 1.66 18.04 42.18 52.98 77.3 92.94 103.88 128.24" y="0" font-size="40">Autocorrelation</text></g>
</g>
<text x="325.2" y="1351.2" font-family="'Liberation Serif', serif" font-weight="bold" font-size="59.5" text-anchor="middle" fill="#000">(A)</text>
<text x="1589.3" y="1351.2" font-family="'Liberation Serif', serif" font-weight="bold" font-size="59.5" text-anchor="middle" fill="#000">(B)</text>
</svg></body></html>
